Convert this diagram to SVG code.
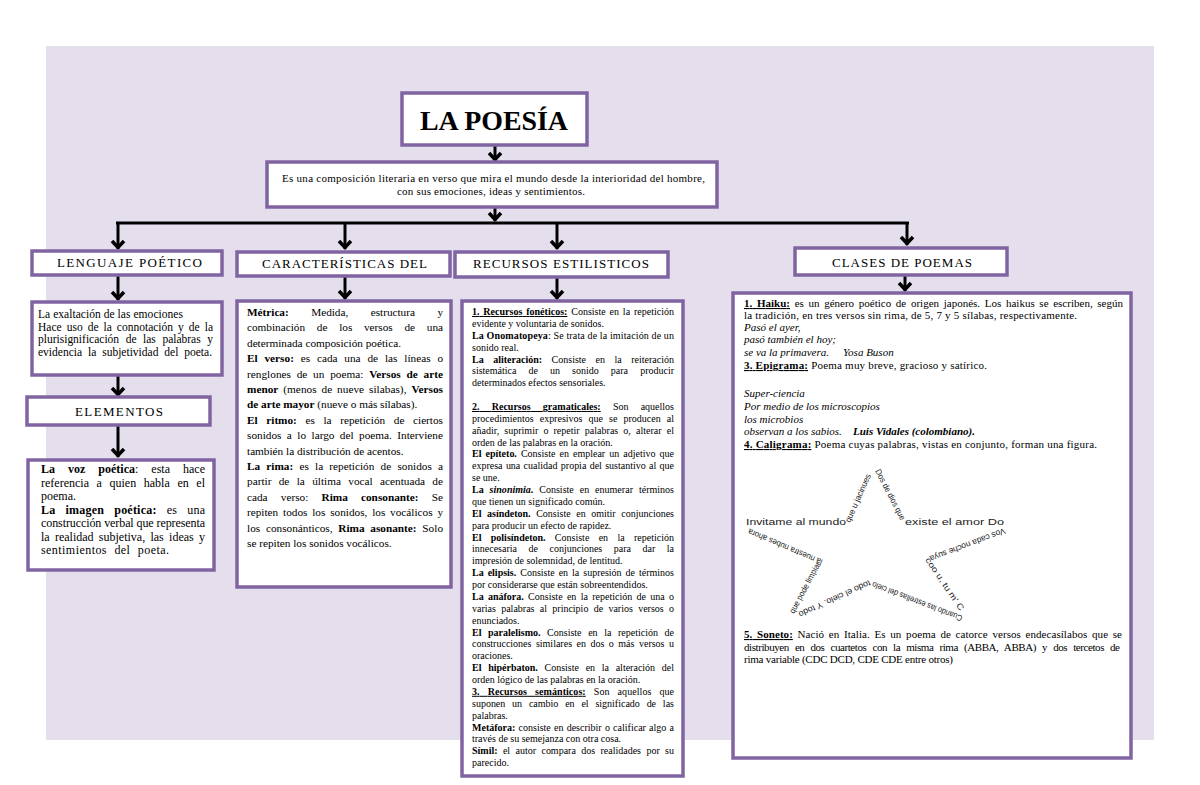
<svg xmlns="http://www.w3.org/2000/svg" width="1200" height="785" viewBox="0 0 1200 785">
<style>
.bx{fill:#fff;stroke:#8064a2;stroke-width:3.5}
.t{font-family:"Liberation Serif","Times New Roman",serif;fill:#000}
.hd{font-family:"Liberation Serif","Times New Roman",serif;font-size:13px;fill:#000}
.b{font-weight:bold}
.u{text-decoration:underline}
.i{font-style:italic}
.cl{font-family:"Liberation Sans",Arial,sans-serif;font-size:8.5px;fill:#222}
.ln{stroke:#000;stroke-width:3;fill:none}
</style>
<defs>
<marker id="ah" markerUnits="userSpaceOnUse" orient="auto" markerWidth="20" markerHeight="20" viewBox="-12 -10 16 20" refX="0" refY="0" overflow="visible">
<path d="M-8,-6 L-1.5,0 L-8,6" fill="none" stroke="#000" stroke-width="3.5"/>
</marker>
</defs>
<rect x="0" y="0" width="1200" height="785" fill="#fff"/>
<rect x="46" y="46" width="1108" height="694" fill="#e5dfed"/>

<g id="connectors">
<line class="ln" x1="495" y1="145" x2="495" y2="161" marker-end="url(#ah)"/>
<line class="ln" x1="495" y1="207" x2="495" y2="221" marker-end="url(#ah)"/>
<line class="ln" x1="116" y1="223" x2="909" y2="223"/>
<line class="ln" x1="118" y1="223" x2="118" y2="249" marker-end="url(#ah)"/>
<line class="ln" x1="345" y1="223" x2="345" y2="249" marker-end="url(#ah)"/>
<line class="ln" x1="557" y1="223" x2="557" y2="249" marker-end="url(#ah)"/>
<line class="ln" x1="907" y1="223" x2="907" y2="245" marker-end="url(#ah)"/>
<line class="ln" x1="118" y1="275" x2="118" y2="300" marker-end="url(#ah)"/>
<line class="ln" x1="118" y1="375" x2="118" y2="396" marker-end="url(#ah)"/>
<line class="ln" x1="118" y1="425" x2="118" y2="457" marker-end="url(#ah)"/>
<line class="ln" x1="345" y1="276" x2="345" y2="299" marker-end="url(#ah)"/>
<line class="ln" x1="557" y1="277" x2="557" y2="299" marker-end="url(#ah)"/>
<line class="ln" x1="905" y1="275" x2="905" y2="291" marker-end="url(#ah)"/>
</g>

<g id="title">
<rect class="bx" x="402" y="93" width="185" height="52"/>
<text font-family="Liberation Serif, Times New Roman, serif" font-weight="bold" x="420" y="130" font-size="28" textLength="148" lengthAdjust="spacingAndGlyphs">LA POESÍA</text>
</g>

<g id="definicion">
<rect class="bx" x="267" y="162" width="450" height="45"/>
<text class="t" font-size="11" x="282" y="182" textLength="423" lengthAdjust="spacing">Es una composición literaria en verso que mira el mundo desde la interioridad del hombre,</text>
<text class="t" font-size="11" x="397" y="195" textLength="188" lengthAdjust="spacing">con sus emociones, ideas y sentimientos.</text>
</g>

<g id="lenguaje">
<rect class="bx" x="32" y="251" width="190" height="24"/>
<text class="hd" x="57" y="267" textLength="145" lengthAdjust="spacing">LENGUAJE POÉTICO</text>
</g>
<g id="lenguaje-contenido">
<rect class="bx" x="32" y="302" width="190" height="73"/>
<g class="t" font-size="11.5">
<text x="38" y="318" textLength="145" lengthAdjust="spacing">La exaltación de las emociones</text>
<text x="38" y="331" word-spacing="2.1" textLength="175" lengthAdjust="spacing">Hace uso de la connotación y de la</text>
<text x="38" y="343" word-spacing="3.7" textLength="175" lengthAdjust="spacing">plurisignificación de las palabras y</text>
<text x="38" y="356" word-spacing="3" textLength="174" lengthAdjust="spacing">evidencia la subjetividad del poeta.</text>
</g>
</g>

<g id="elementos">
<rect class="bx" x="27" y="397" width="183" height="28"/>
<text class="hd" x="75" y="416" textLength="88" lengthAdjust="spacing">ELEMENTOS</text>
</g>
<g id="elementos-contenido">
<rect class="bx" x="28" y="460" width="186" height="110"/>
<g class="t" font-size="12">
<text x="41" y="473" word-spacing="10" textLength="164" lengthAdjust="spacing"><tspan class="b">La voz poética</tspan>: esta hace</text>
<text x="41" y="487" word-spacing="4.6" textLength="164" lengthAdjust="spacing">referencia a quien habla en el</text>
<text x="41" y="500">poema.</text>
<text x="41" y="514" word-spacing="6.9" textLength="164" lengthAdjust="spacing"><tspan class="b">La imagen poética:</tspan> es una</text>
<text x="41" y="527" textLength="164" lengthAdjust="spacing">construcción verbal que representa</text>
<text x="41" y="541" word-spacing="2.3" textLength="164" lengthAdjust="spacing">la realidad subjetiva, las ideas y</text>
<text x="41" y="554" word-spacing="4" textLength="128" lengthAdjust="spacing">sentimientos del poeta.</text>
</g>
</g>

<g id="caracteristicas">
<rect class="bx" x="237" y="252" width="213" height="24"/>
<text class="hd" x="262" y="268" textLength="165" lengthAdjust="spacing">CARACTERÍSTICAS DEL</text>
</g>
<g id="caracteristicas-contenido">
<rect class="bx" x="237" y="301" width="214" height="286"/>
<g class="t" font-size="11.25">
<text x="247" y="316" word-spacing="19.7" textLength="196" lengthAdjust="spacing"><tspan class="b">Métrica:</tspan> Medida, estructura y</text>
<text x="247" y="331.4" word-spacing="8.9" textLength="196" lengthAdjust="spacing">combinación de los versos de una</text>
<text x="247" y="346.8">determinada composición poética.</text>
<text x="247" y="362.2" word-spacing="4" textLength="196" lengthAdjust="spacing"><tspan class="b">El verso:</tspan> es cada una de las líneas o</text>
<text x="247" y="377.6" word-spacing="2.9" textLength="196" lengthAdjust="spacing">renglones de un poema: <tspan class="b">Versos de arte</tspan></text>
<text x="247" y="393" word-spacing="2.1" textLength="196" lengthAdjust="spacing"><tspan class="b">menor</tspan> (menos de nueve silabas), <tspan class="b">Versos</tspan></text>
<text x="247" y="408.4"><tspan class="b">de arte mayor</tspan> (nueve o más sílabas).</text>
<text x="247" y="423.8" word-spacing="5.8" textLength="196" lengthAdjust="spacing"><tspan class="b">El ritmo:</tspan> es la repetición de ciertos</text>
<text x="247" y="439.2" word-spacing="2.6" textLength="196" lengthAdjust="spacing">sonidos a lo largo del poema. Interviene</text>
<text x="247" y="454.6">también la distribución de acentos.</text>
<text x="247" y="470" word-spacing="3.4" textLength="196" lengthAdjust="spacing"><tspan class="b">La rima:</tspan> es la repetición de sonidos a</text>
<text x="247" y="485.4" word-spacing="4.5" textLength="196" lengthAdjust="spacing">partir de la última vocal acentuada de</text>
<text x="247" y="500.8" word-spacing="10.4" textLength="196" lengthAdjust="spacing">cada verso: <tspan class="b">Rima consonante:</tspan> Se</text>
<text x="247" y="516.2" word-spacing="2" textLength="196" lengthAdjust="spacing">repiten todos los sonidos, los vocálicos y</text>
<text x="247" y="531.6" word-spacing="3" textLength="196" lengthAdjust="spacing">los consonánticos, <tspan class="b">Rima asonante:</tspan> Solo</text>
<text x="247" y="547">se repiten los sonidos vocálicos.</text>
</g>
</g>

<g id="recursos">
<rect class="bx" x="455" y="252" width="213" height="25"/>
<text class="hd" x="473" y="268" textLength="176" lengthAdjust="spacing">RECURSOS ESTILISTICOS</text>
</g>
<g id="recursos-contenido">
<rect class="bx" x="462" y="301" width="221" height="475"/>
<g class="t" font-size="10">
<text x="472" y="315" word-spacing="1.3" textLength="202" lengthAdjust="spacing"><tspan class="b u">1. Recursos fonéticos:</tspan> Consiste en la repetición</text>
<text x="472" y="326.9">evidente y voluntaria de sonidos.</text>
<text x="472" y="338.7" textLength="202" lengthAdjust="spacing"><tspan class="b">La Onomatopeya</tspan>: Se trata de la imitación de un</text>
<text x="472" y="350.6">sonido real.</text>
<text x="472" y="362.5" word-spacing="7" textLength="202" lengthAdjust="spacing"><tspan class="b">La aliteración:</tspan> Consiste en la reiteración</text>
<text x="472" y="374.4" word-spacing="9.6" textLength="202" lengthAdjust="spacing">sistemática de un sonido para producir</text>
<text x="472" y="386.2">determinados efectos sensoriales.</text>
<text x="472" y="410" word-spacing="9.7" textLength="202" lengthAdjust="spacing"><tspan class="b u">2. Recursos gramaticales:</tspan> Son aquellos</text>
<text x="472" y="421.8" word-spacing="3.6" textLength="202" lengthAdjust="spacing">procedimientos expresivos que se producen al</text>
<text x="472" y="433.7" word-spacing="2.6" textLength="202" lengthAdjust="spacing">añadir, suprimir o repetir palabras o, alterar el</text>
<text x="472" y="445.6">orden de las palabras en la oración.</text>
<text x="472" y="457.4" word-spacing="1.6" textLength="202" lengthAdjust="spacing"><tspan class="b">El epíteto.</tspan> Consiste en emplear un adjetivo que</text>
<text x="472" y="469.3" word-spacing="0.8" textLength="202" lengthAdjust="spacing">expresa una cualidad propia del sustantivo al que</text>
<text x="472" y="481.2">se une.</text>
<text x="472" y="493.1" word-spacing="3.4" textLength="202" lengthAdjust="spacing"><tspan class="b">La <tspan class="i">sinonimia</tspan>.</tspan> Consiste en enumerar términos</text>
<text x="472" y="504.9">que tienen un significado común.</text>
<text x="472" y="516.8" word-spacing="3.1" textLength="202" lengthAdjust="spacing"><tspan class="b">El asíndeton.</tspan> Consiste en omitir conjunciones</text>
<text x="472" y="528.7">para producir un efecto de rapidez.</text>
<text x="472" y="540.5" word-spacing="6.8" textLength="202" lengthAdjust="spacing"><tspan class="b">El polisíndeton.</tspan> Consiste en la repetición</text>
<text x="472" y="552.4" word-spacing="9" textLength="202" lengthAdjust="spacing">innecesaria de conjunciones para dar la</text>
<text x="472" y="564.3">impresión de solemnidad, de lentitud.</text>
<text x="472" y="576.1" word-spacing="1.5" textLength="202" lengthAdjust="spacing"><tspan class="b">La elipsis.</tspan> Consiste en la supresión de términos</text>
<text x="472" y="588">por considerarse que están sobreentendidos.</text>
<text x="472" y="599.9" word-spacing="1.8" textLength="202" lengthAdjust="spacing"><tspan class="b">La anáfora.</tspan> Consiste en la repetición de una o</text>
<text x="472" y="611.8" word-spacing="2.8" textLength="202" lengthAdjust="spacing">varias palabras al principio de varios versos o</text>
<text x="472" y="623.6">enunciados.</text>
<text x="472" y="635.5" word-spacing="4.1" textLength="202" lengthAdjust="spacing"><tspan class="b">El paralelismo.</tspan> Consiste en la repetición de</text>
<text x="472" y="647.4" word-spacing="2" textLength="202" lengthAdjust="spacing">construcciones similares en dos o más versos u</text>
<text x="472" y="659.2">oraciones.</text>
<text x="472" y="671.1" word-spacing="4.2" textLength="202" lengthAdjust="spacing"><tspan class="b">El hipérbaton.</tspan> Consiste en la alteración del</text>
<text x="472" y="683">orden lógico de las palabras en la oración.</text>
<text x="472" y="694.8" word-spacing="5.5" textLength="202" lengthAdjust="spacing"><tspan class="b u">3. Recursos semánticos:</tspan> Son aquellos que</text>
<text x="472" y="706.7" word-spacing="4.3" textLength="202" lengthAdjust="spacing">suponen un cambio en el significado de las</text>
<text x="472" y="718.6">palabras.</text>
<text x="472" y="730.5" word-spacing="0.7" textLength="202" lengthAdjust="spacing"><tspan class="b">Metáfora:</tspan> consiste en describir o calificar algo a</text>
<text x="472" y="742.3">través de su semejanza con otra cosa.</text>
<text x="472" y="754.2" word-spacing="2.9" textLength="202" lengthAdjust="spacing"><tspan class="b">Símil:</tspan> el autor compara dos realidades por su</text>
<text x="472" y="766.1">parecido.</text>
</g>
</g>

<g id="clases">
<rect class="bx" x="795" y="248" width="212" height="27"/>
<text class="hd" x="832" y="267" textLength="140" lengthAdjust="spacing">CLASES DE POEMAS</text>
</g>
<g id="clases-contenido">
<rect class="bx" x="733" y="293" width="398" height="465"/>
<g class="t" font-size="11">
<text x="744" y="307" word-spacing="1.9" textLength="379" lengthAdjust="spacing"><tspan class="b u">1. Haiku:</tspan> es un género poético de origen japonés. Los haikus se escriben, según</text>
<text x="744" y="319" textLength="333" lengthAdjust="spacing">la tradición, en tres versos sin rima, de 5, 7 y 5 sílabas, respectivamente.</text>
<text x="744" y="331" class="i">Pasó el ayer,</text>
<text x="744" y="343" class="i">pasó también el hoy;</text>
<text x="744" y="356" class="i">se va la primavera.</text>
<text x="843" y="356" class="i">Yosa Buson</text>
<text x="744" y="369" textLength="243" lengthAdjust="spacing"><tspan class="b u">3. Epigrama:</tspan> Poema muy breve, gracioso y satírico.</text>
<text x="744" y="397" class="i">Super-ciencia</text>
<text x="744" y="410" class="i">Por medio de los microscopios</text>
<text x="744" y="423" class="i">los microbios</text>
<text x="744" y="435" class="i">observan a los sabios.</text>
<text x="853" y="435" class="i b">Luis Vidales (colombiano).</text>
<text x="744" y="448" textLength="353" lengthAdjust="spacing"><tspan class="b u">4. Caligrama:</tspan> Poema cuyas palabras, vistas en conjunto, forman una figura.</text>
<text x="744" y="638" word-spacing="1.9" textLength="378" lengthAdjust="spacing"><tspan class="b u">5. Soneto:</tspan> Nació en Italia.  Es un poema de catorce versos endecasílabos que se</text>
<text x="744" y="651" word-spacing="3.7" textLength="376" lengthAdjust="spacing">distribuyen en dos cuartetos con la misma rima (ABBA, ABBA) y dos tercetos de</text>
<text x="744" y="663" textLength="209" lengthAdjust="spacing">rima variable (CDC DCD, CDE CDE entre otros)</text>
</g>
<g id="caligrama" class="cl">
<text x="746" y="525" textLength="100" lengthAdjust="spacingAndGlyphs">Invitame al mundo</text>
<text x="850" y="523" transform="rotate(-66.1 850 523)" textLength="52" lengthAdjust="spacingAndGlyphs">que u jacinues</text>
<text x="875" y="471" transform="rotate(62.6 875 471)" textLength="56" lengthAdjust="spacingAndGlyphs">Dos de dios que</text>
<text x="905" y="525" textLength="99" lengthAdjust="spacingAndGlyphs">existe el amor Do</text>
<text x="1004" y="528" transform="rotate(159.2 1004 528)" textLength="80" lengthAdjust="spacingAndGlyphs">Vos cada noche suya</text>
<text x="925" y="560" transform="rotate(55.8 925 560)" textLength="62" lengthAdjust="spacingAndGlyphs">coo u, tu m' C</text>
<text x="963" y="616" transform="rotate(-159 963 616)" textLength="96" lengthAdjust="spacingAndGlyphs">Cuando las estrellas del cielo</text>
<text x="869" y="580" transform="rotate(155.6 869 580)" textLength="78" lengthAdjust="spacingAndGlyphs">todo el cielo. Y todo</text>
<text x="794" y="614" transform="rotate(-61.8 794 614)" textLength="57" lengthAdjust="spacingAndGlyphs">que pode limpiar</text>
<text x="823" y="560" transform="rotate(-156.8 823 560)" textLength="80" lengthAdjust="spacingAndGlyphs">la nuestra nubes ahora</text>
</g>
</g>
</svg>
